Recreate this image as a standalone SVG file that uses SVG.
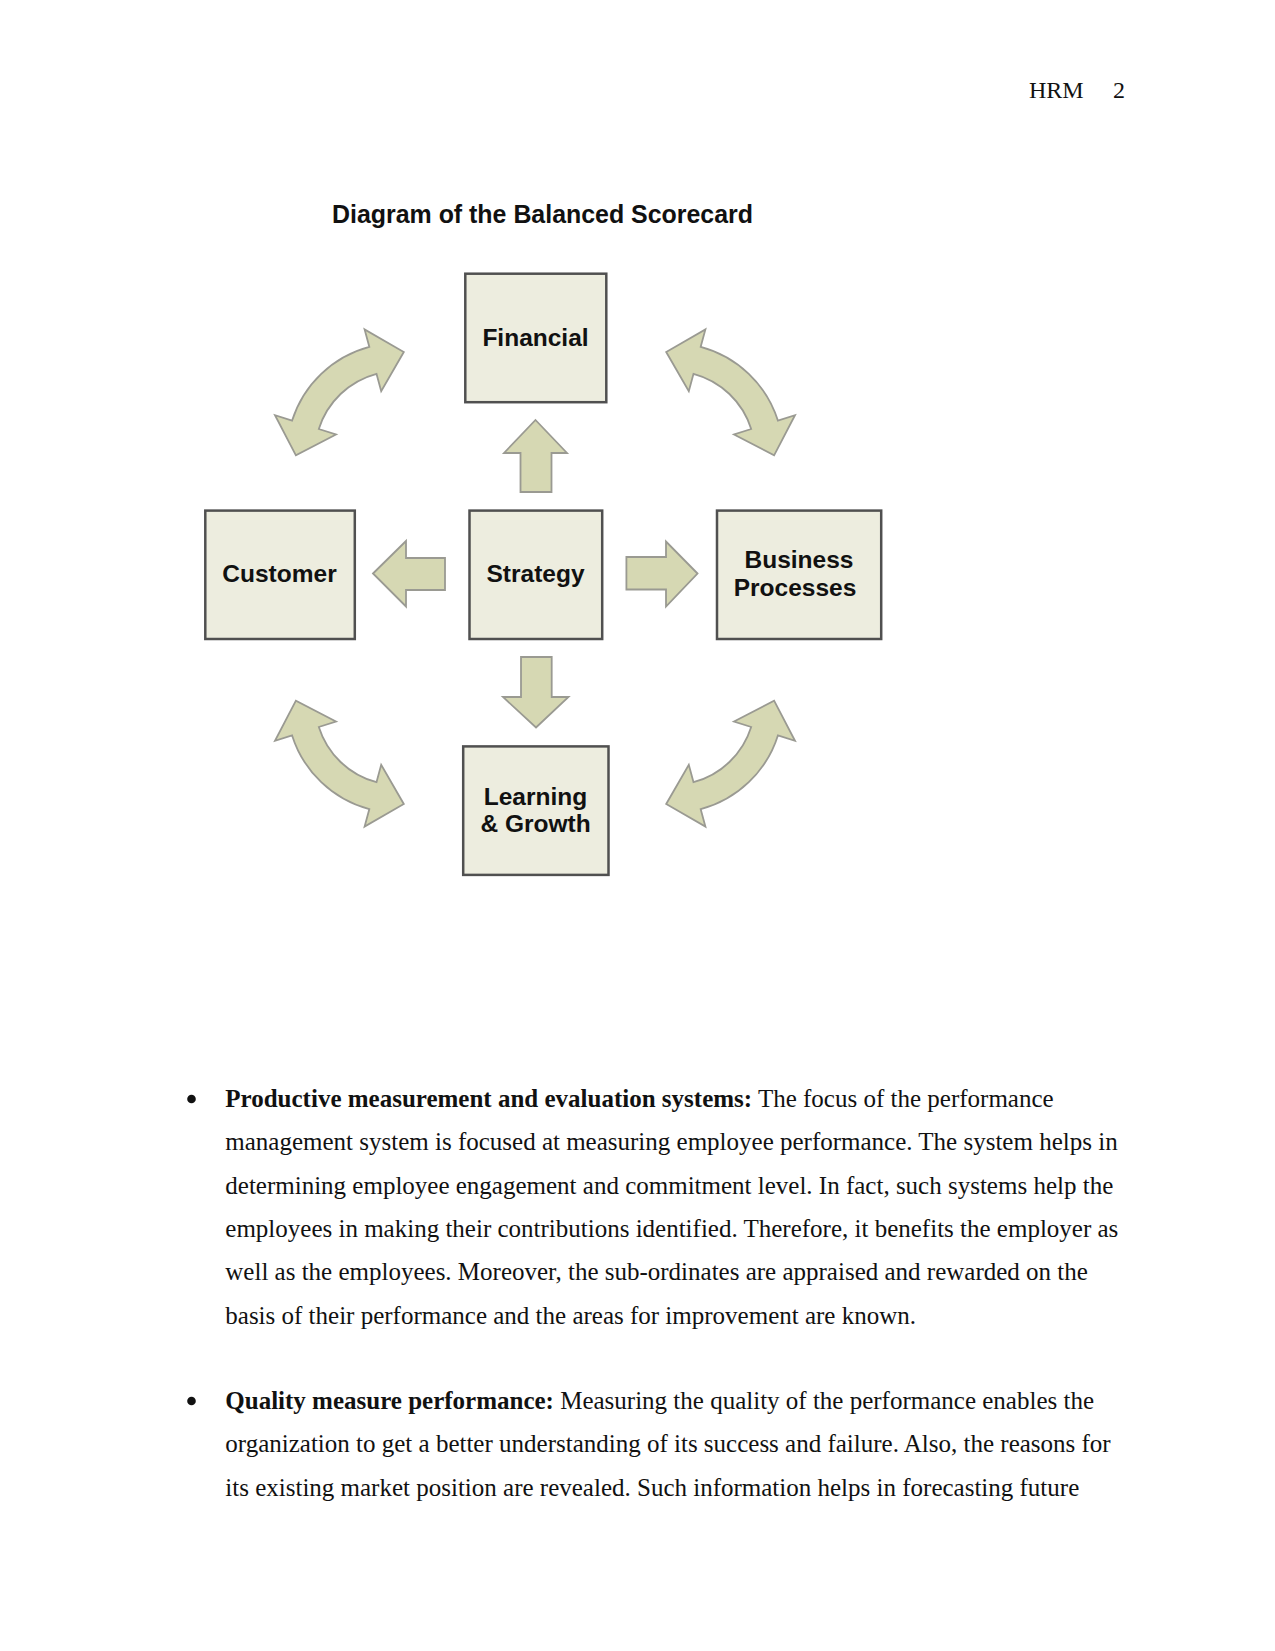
<svg xmlns="http://www.w3.org/2000/svg" width="1275" height="1651" viewBox="0 0 1275 1651">
<style>
.box{fill:#ededdf;stroke:#505050;stroke-width:2.5}
.arr{fill:#d6d8b3;stroke:#9a9a92;stroke-width:1.8;stroke-linejoin:miter}
.lbl{font-family:"Liberation Sans",Arial,sans-serif;font-weight:bold;font-size:24.5px;fill:#111;text-anchor:middle}
.title{font-family:"Liberation Sans",Arial,sans-serif;font-weight:bold;font-size:25px;fill:#111}
.body{font-family:"Liberation Serif","Times New Roman",serif;font-size:25px;fill:#111}
.hdr{font-family:"Liberation Serif","Times New Roman",serif;font-size:24px;fill:#111}
</style>
<defs>
<path id="curve" d="M369.3,346.8 L364.6,329.4 L403.8,352 L381.2,391.2 L376.5,373.8 A83,83 0 0 0 318.8,429 L336,434.5 L295.9,455.3 L275,415.2 L292.1,420.6 A111,111 0 0 1 369.3,346.8 Z"/>
</defs>
<rect width="1275" height="1651" fill="#fff"/>
<text class="hdr" x="1029" y="98">HRM</text>
<text class="hdr" x="1113" y="98">2</text>
<text class="title" x="332" y="223" textLength="421" lengthAdjust="spacingAndGlyphs">Diagram of the Balanced Scorecard</text>
<g id="connectors">
<use href="#curve" class="arr"/>
<use href="#curve" class="arr" transform="translate(1070,0) scale(-1,1)"/>
<use href="#curve" class="arr" transform="translate(0,1156) scale(1,-1)"/>
<use href="#curve" class="arr" transform="translate(1070,1156) scale(-1,-1)"/>
<polygon class="arr" points="535.5,420 567,453 551.5,453 551.5,492 520.5,492 520.5,453 504,453"/>
<polygon class="arr" points="536,727.5 568.5,697 551.7,697 551.7,657 521,657 521,697 503,697"/>
<polygon class="arr" points="373,573.5 406,541 406,558 445,558 445,590 406,590 406,606.5"/>
<polygon class="arr" points="697.5,573.5 666,541.5 666,557 626.4,557 626.4,589.5 666,589.5 666,606.5"/>
</g>
<g id="financial"><rect class="box" x="465.3" y="273.7" width="141" height="128.5"/><text class="lbl" x="535.5" y="346">Financial</text></g>
<g id="customer"><rect class="box" x="205.3" y="510.6" width="149.5" height="128.4"/><text class="lbl" x="279.5" y="581.5">Customer</text></g>
<g id="strategy"><rect class="box" x="469.5" y="510.6" width="132.7" height="128.4"/><text class="lbl" x="535.5" y="581.5">Strategy</text></g>
<g id="business"><rect class="box" x="717" y="510.6" width="164.2" height="128.4"/><text class="lbl" x="799" y="567.5">Business</text><text class="lbl" x="795" y="596">Processes</text></g>
<g id="learning"><rect class="box" x="463.2" y="746.4" width="145.3" height="128.5"/><text class="lbl" x="535.5" y="805">Learning</text><text class="lbl" x="535.5" y="832">&amp; Growth</text></g>
<circle cx="191.5" cy="1099" r="4.3" fill="#111"/>
<text class="body" x="225.3" y="1107"><tspan font-weight="bold">Productive measurement and evaluation systems:</tspan> The focus of the performance</text>
<text class="body" x="225.3" y="1150.3">management system is focused at measuring employee performance. The system helps in</text>
<text class="body" x="225.3" y="1193.6">determining employee engagement and commitment level. In fact, such systems help the</text>
<text class="body" x="225.3" y="1236.9">employees in making their contributions identified. Therefore, it benefits the employer as</text>
<text class="body" x="225.3" y="1280.2">well as the employees. Moreover, the sub-ordinates are appraised and rewarded on the</text>
<text class="body" x="225.3" y="1323.5">basis of their performance and the areas for improvement are known.</text>
<circle cx="191.5" cy="1401" r="4.3" fill="#111"/>
<text class="body" x="225.3" y="1409"><tspan font-weight="bold">Quality measure performance:</tspan> Measuring the quality of the performance enables the</text>
<text class="body" x="225.3" y="1452.3">organization to get a better understanding of its success and failure. Also, the reasons for</text>
<text class="body" x="225.3" y="1495.6">its existing market position are revealed. Such information helps in forecasting future</text>
</svg>
